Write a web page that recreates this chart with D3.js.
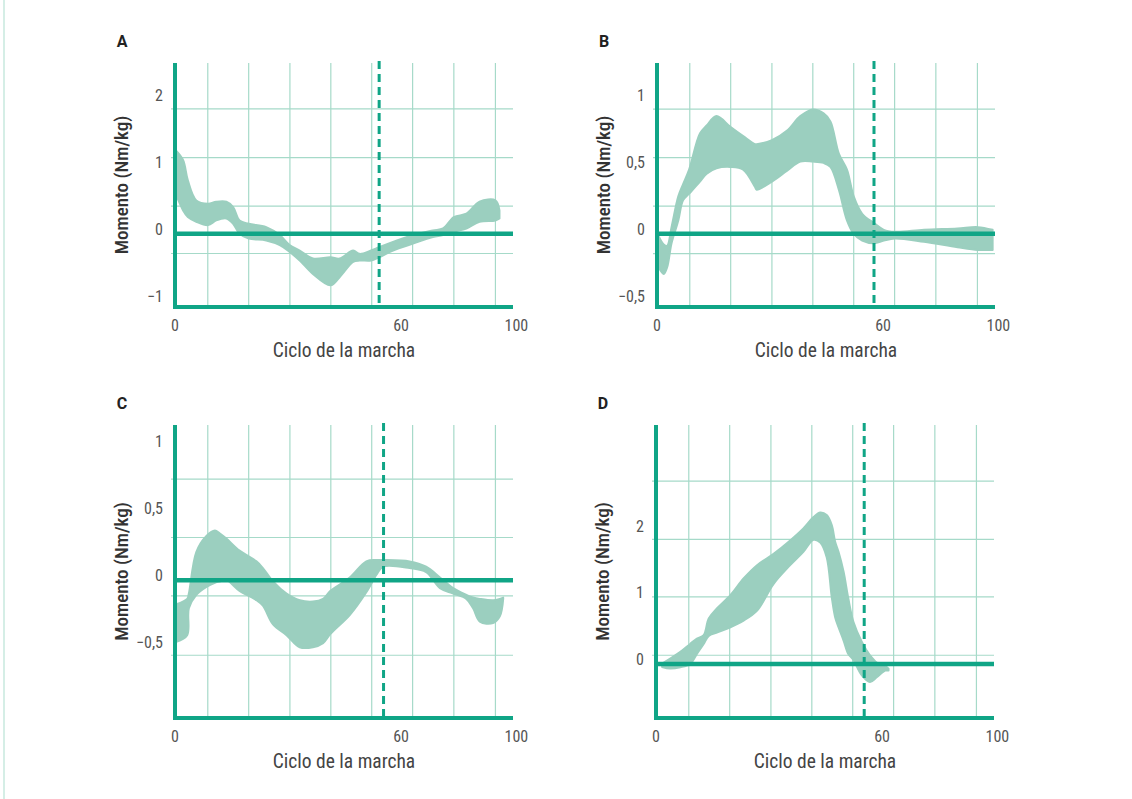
<!DOCTYPE html>
<html>
<head>
<meta charset="utf-8">
<script src="https://cdn.jsdelivr.net/npm/d3@7"></script>
<style>
  body { margin: 0; background: #fff; }
  svg { display: block; }
  text { font-family: "Roboto Condensed", "Liberation Sans Narrow", "DejaVu Sans Condensed", Roboto, sans-serif; font-stretch: condensed; }
  text.panel-id { font-family: Roboto, "Liberation Sans", sans-serif; font-stretch: normal; }
</style>
</head>
<body>
<script>
// ---- data: gait cycle (%) and moment band [x, lower, upper] in Nm/kg
const bandA = [
  [0.2, 0.6, 1.25], [2.4, 0.35, 1.1], [3.8, 0.25, 0.8], [6.3, 0.18, 0.5],
  [9.8, 0.13, 0.45], [12.2, 0.2, 0.48], [15.2, 0.23, 0.48], [17.2, 0.15, 0.4],
  [19.1, 0.0, 0.2], [21.8, -0.07, 0.15], [27, -0.1, 0.1], [31, -0.17, -0.02],
  [33.9, -0.27, -0.17], [36.9, -0.4, -0.25], [40.8, -0.6, -0.37], [46, -0.77, -0.35],
  [48.7, -0.65, -0.37], [52.7, -0.42, -0.25], [54.6, -0.4, -0.3], [58, -0.4, -0.25],
  [60.4, -0.35, -0.2], [64.5, -0.25, -0.12], [70.2, -0.15, -0.02], [76.3, -0.05, 0.05],
  [79.3, -0.02, 0.08], [82.5, 0.03, 0.25], [86.2, 0.08, 0.3], [90.1, 0.18, 0.48],
  [94.8, 0.2, 0.5], [96, 0.23, 0.35]
];
const bandB = [
  [0.5, -0.25, -0.02], [2, -0.3, -0.08], [3, -0.25, -0.09], [4.3, -0.07, 0.05],
  [6.3, 0.1, 0.28], [7.7, 0.25, 0.37], [9.5, 0.3, 0.48], [12.7, 0.39, 0.75],
  [14.7, 0.45, 0.81], [17.6, 0.49, 0.88], [21.7, 0.5, 0.8], [25.5, 0.48, 0.73],
  [29, 0.35, 0.67], [29.5, 0.33, 0.67], [34, 0.39, 0.7], [38.4, 0.47, 0.77],
  [42.4, 0.54, 0.88], [46.1, 0.54, 0.93], [49.3, 0.53, 0.9], [51.3, 0.5, 0.84],
  [53.8, 0.33, 0.6], [56.2, 0.1, 0.48], [58.2, 0.0, 0.28], [60.7, -0.05, 0.15],
  [64.2, -0.07, 0.08], [67.1, -0.05, 0.03], [70.4, -0.035, 0.015], [79, -0.06, 0.03],
  [88.9, -0.1, 0.04], [94.9, -0.12, 0.05], [99.3, -0.12, 0.03]
];
const bandC = [
  [0.4, -0.46, -0.18], [3.6, -0.41, -0.14], [4.1, -0.21, -0.1], [6.3, -0.11, 0.21],
  [9.3, -0.05, 0.33], [11.8, -0.02, 0.37], [13.2, -0.01, 0.35], [15.2, 0.0, 0.31],
  [19.1, -0.08, 0.22], [24.1, -0.15, 0.14], [26, -0.19, 0.09], [29, -0.33, -0.01],
  [33, -0.41, -0.1], [36.9, -0.5, -0.15], [40.8, -0.5, -0.16], [43.8, -0.47, -0.14],
  [46, -0.4, -0.08], [51.7, -0.26, 0.02], [56.6, -0.09, 0.14], [59.6, 0.04, 0.15],
  [61.5, 0.1, 0.15], [69.4, 0.09, 0.14], [74.3, 0.06, 0.1], [78.4, -0.06, 0.02],
  [82.3, -0.1, -0.06], [86.2, -0.14, -0.11], [88.2, -0.21, -0.13], [90.2, -0.31, -0.14],
  [94.1, -0.32, -0.15], [96.1, -0.27, -0.14], [97.1, -0.14, -0.13]
];
const bandD = [
  [1.8, -0.045, 0.005], [4.2, -0.07, 0.08], [7.2, -0.05, 0.18], [10.1, 0.0, 0.3],
  [12.1, 0.15, 0.38], [14.1, 0.3, 0.43], [15.6, 0.42, 0.68], [18, 0.47, 0.83],
  [22, 0.55, 1.03], [25.9, 0.65, 1.28], [29.9, 0.8, 1.48], [34.8, 1.2, 1.65],
  [39.7, 1.48, 1.85], [43.6, 1.68, 2.03], [46.6, 1.86, 2.2], [48.6, 1.82, 2.27],
  [50.5, 1.6, 2.23], [52, 1.0, 2.08], [53, 0.7, 1.83], [54, 0.55, 1.68],
  [55.5, 0.35, 1.38], [56.9, 0.15, 0.98], [58.4, 0.06, 0.63], [60.9, -0.17, 0.33],
  [63.3, -0.27, 0.13], [65.3, -0.2, 0.02], [67.8, -0.1, -0.03], [68.8, -0.1, -0.07]
];

// tick labels and where they sit along the cycle axis
const xTickLabels = ["0", "60", "100"];
const xTickAt = [0, 66.9, 101];
const yTicksA = [2, 1, 0, -1];
const yTicksB = [1, 0.5, 0, -0.5];
const yTicksC = [1, 0.5, 0, -0.5];
const yTicksD = [2, 1, 0];

// light grid lines
const xGrid = [9.7, 21.8, 34, 46.1, 58.2, 70.3, 82.5, 94.8];
const yGridA = [1.87, 1.14, 0.415, -0.295];
const yGridB = [0.9325, 0.57, 0.2075, -0.1475];
const yGridC = [0.754, 0.318, -0.117, -0.56];
const yGridD = [2.74, 1.865, 1.005, 0.13];

// toe-off (dashed) per panel
const toeOff = { A: 60.4, B: 64.2, C: 61.7, D: 61.6 };

const panels = [
  { id: "A", band: bandA, ticks: yTicksA, grid: yGridA, yDom: [-1.095, 2.555], left: 175, top: 63, bottom: 307 },
  { id: "B", band: bandB, ticks: yTicksB, grid: yGridB, yDom: [-0.547, 1.277], left: 657, top: 63, bottom: 307 },
  { id: "C", band: bandC, ticks: yTicksC, grid: yGridC, yDom: [-1.028, 1.157], left: 175, top: 425, bottom: 718 },
  { id: "D", band: bandD, ticks: yTicksD, grid: yGridD, yDom: [-0.81, 3.58], left: 656, top: 425, bottom: 718 }
];

const W = 1132, H = 799;
const plotW = 338;
const teal = "#10a586";
const gridCol = "#a6dac9";
const bandCol = "#9bcfbf";

const fmt = (v) => String(v).replace(".", ",").replace("-", "\u2212");

const svg = d3.select("body").append("svg").attr("width", W).attr("height", H);

// faint frame line on the left
svg.append("rect").attr("x", 3).attr("y", 0).attr("width", 2).attr("height", H).attr("fill", "#d5eee6");

panels.forEach((p) => {
  const g = svg.append("g").attr("transform", "translate(" + p.left + ",0)");
  const x = d3.scaleLinear().domain([0, 100]).range([0, plotW]);
  const y = d3.scaleLinear().domain(p.yDom).range([p.bottom, p.top]);

  // grid
  g.selectAll(".vg").data(xGrid).enter().append("line")
    .attr("x1", (d) => x(d)).attr("x2", (d) => x(d))
    .attr("y1", p.top).attr("y2", p.bottom)
    .attr("stroke", gridCol).attr("stroke-width", 1.2);
  g.selectAll(".hg").data(p.grid).enter().append("line")
    .attr("x1", -4).attr("x2", plotW)
    .attr("y1", (d) => y(d)).attr("y2", (d) => y(d))
    .attr("stroke", gridCol).attr("stroke-width", 1.2);

  // band
  const area = d3.area()
    .x((d) => x(d[0]))
    .y0((d) => y(d[1]))
    .y1((d) => y(d[2]))
    .curve(d3.curveCatmullRom.alpha(0.5));
  g.append("path").datum(p.band).attr("d", area)
    .attr("fill", bandCol).attr("stroke", bandCol).attr("stroke-width", 2)
    .attr("stroke-linejoin", "round");

  // zero line
  g.append("line").attr("x1", 0).attr("x2", plotW)
    .attr("y1", y(0)).attr("y2", y(0))
    .attr("stroke", teal).attr("stroke-width", 4.5);

  // dashed toe-off line
  g.append("line").attr("x1", x(toeOff[p.id])).attr("x2", x(toeOff[p.id]))
    .attr("y1", p.top - 2).attr("y2", p.bottom)
    .attr("stroke", teal).attr("stroke-width", 3)
    .attr("stroke-dasharray", "8,5");

  // axes
  g.append("line").attr("x1", 0).attr("x2", 0).attr("y1", p.top).attr("y2", p.bottom + 2)
    .attr("stroke", teal).attr("stroke-width", 4);
  g.append("line").attr("x1", -2).attr("x2", plotW).attr("y1", p.bottom).attr("y2", p.bottom)
    .attr("stroke", teal).attr("stroke-width", 4);

  // y tick labels
  g.selectAll(".yt").data(p.ticks).enter().append("text")
    .attr("x", -12).attr("y", (d) => y(d) - 3)
    .attr("text-anchor", "end").attr("dominant-baseline", "middle")
    .attr("font-size", 16).attr("fill", "#555")
    .text((d) => fmt(d));

  // x tick labels
  g.selectAll(".xt").data(xTickLabels).enter().append("text")
    .attr("x", (d, i) => x(xTickAt[i])).attr("y", p.bottom + 20)
    .attr("text-anchor", "middle").attr("dominant-baseline", "middle")
    .attr("font-size", 16).attr("fill", "#555")
    .text((d) => d);

  // titles
  g.append("text").attr("x", plotW / 2).attr("y", p.bottom + 45)
    .attr("text-anchor", "middle").attr("dominant-baseline", "middle")
    .attr("font-size", 19.5).attr("fill", "#444")
    .text("Ciclo de la marcha");
  g.append("text")
    .attr("transform", "translate(-52," + (p.top + p.bottom) / 2 + ") rotate(-90)")
    .attr("text-anchor", "middle").attr("dominant-baseline", "middle")
    .attr("font-size", 19).attr("font-weight", 500).attr("fill", "#333")
    .text("Momento (Nm/kg)");

  g.append("text").attr("class", "panel-id").attr("x", -53).attr("y", p.top - 20)
    .attr("text-anchor", "middle").attr("dominant-baseline", "middle")
    .attr("font-size", 16).attr("font-weight", "bold").attr("fill", "#222")
    .text(p.id);
});
</script>
</body>
</html>
